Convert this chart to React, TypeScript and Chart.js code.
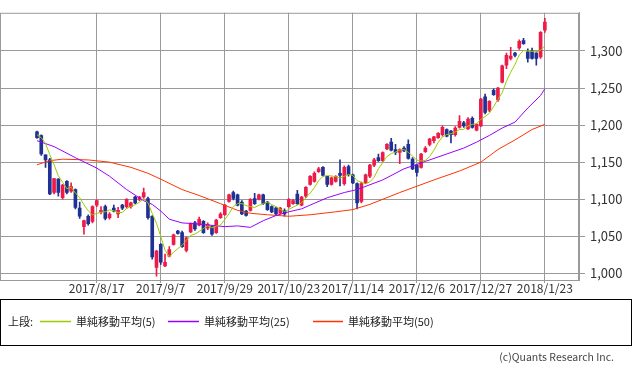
import React, { useEffect, useRef } from "react";
import { Chart, registerables } from "chart.js";

Chart.register(...registerables);

// ---- data (daily candles, index 0..119) ----
const openPrices = [1191,1186,1160,1153,1109,1127,1102,1124,1111,1113, 1088,1063,1077,1070,1092,1083,1090,1075,1088,1080, 1092,1090,1090,1103,1100,1103,1101,1077,1008,1039, 1010,1023,1039,1057,1055,1031,1056,1068,1065,1070, 1061,1063,1055,1075,1079,1097,1109,1106,1096,1084, 1085,1101,1100,1106,1096,1090,1088,1081,1085,1090, 1094,1107,1092,1104,1120,1124,1137,1143,1131,1120, 1124,1135,1121,1144,1133,1121,1097,1122,1131,1146, 1156,1152,1168,1177,1167,1163,1169,1174,1154,1146, 1143,1164,1174,1179,1183,1187,1194,1192,1187,1197, 1203,1195,1209,1193,1199,1238,1220,1247,1234,1258, 1281,1290,1297,1304,1314,1299,1300,1297,1292,1328];
const highPrices = [1192,1187,1160,1155,1128,1128,1120,1125,1122,1114, 1096,1072,1079,1091,1099,1090,1092,1082,1092,1089, 1093,1101,1096,1104,1104,1115,1103,1078,1031,1040, 1026,1036,1053,1058,1057,1049,1068,1070,1076,1071, 1068,1064,1073,1082,1093,1107,1111,1107,1098,1085, 1101,1108,1107,1107,1097,1091,1089,1089,1087,1101, 1100,1112,1104,1117,1132,1137,1143,1144,1131,1130, 1132,1153,1145,1146,1134,1122,1123,1134,1147,1155, 1161,1164,1175,1182,1174,1168,1171,1180,1156,1147, 1162,1171,1182,1185,1190,1199,1195,1193,1198,1213, 1205,1210,1211,1202,1236,1242,1233,1249,1251,1281, 1297,1305,1298,1315,1317,1303,1304,1299,1326,1344];
const lowPrices = [1182,1159,1143,1106,1107,1104,1100,1107,1109,1087, 1074,1053,1065,1068,1090,1080,1072,1073,1083,1075, 1086,1088,1088,1094,1098,1101,1073,1019,996,1012, 1009,1022,1038,1053,1035,1029,1055,1058,1064,1054, 1059,1051,1054,1074,1078,1096,1099,1091,1079,1077, 1084,1093,1099,1093,1085,1082,1079,1080,1077,1089, 1093,1093,1091,1102,1119,1123,1136,1131,1117,1119, 1123,1118,1119,1131,1121,1087,1095,1121,1129,1144, 1151,1151,1167,1165,1160,1148,1164,1154,1140,1131, 1142,1163,1172,1176,1182,1185,1184,1176,1185,1196, 1197,1194,1196,1192,1198,1215,1218,1240,1232,1257, 1276,1288,1292,1302,1309,1285,1289,1281,1290,1325];
const closePrices = [1183,1161,1153,1107,1128,1109,1119,1109,1117,1089, 1077,1071,1067,1090,1098,1085,1074,1080,1084,1085, 1088,1100,1095,1095,1103,1109,1075,1022,1030,1015, 1015,1032,1052,1054,1036,1048,1067,1060,1073,1055, 1066,1053,1072,1080,1092,1106,1101,1092,1080,1078, 1100,1094,1106,1094,1086,1083,1080,1088,1080,1100, 1098,1094,1103,1116,1131,1135,1141,1132,1120,1129, 1131,1132,1143,1133,1122,1095,1121,1133,1146,1153, 1152,1163,1174,1166,1163,1167,1165,1155,1141,1136, 1161,1169,1181,1184,1189,1197,1185,1187,1196,1205, 1199,1208,1197,1201,1235,1217,1232,1241,1250,1280, 1294,1293,1294,1313,1310,1290,1290,1290,1325,1339];

// simple moving average (5), one value per candle
const ma5 = [1187,1183,1175,1160,1146.5,1131.5,1123.0,1114.1,1116.1,1108.5, 1102.1,1092.6,1084.4,1078.9,1080.7,1082.4,1083.0,1085.6,1084.4,1081.8, 1082.2,1087.4,1090.3,1092.5,1096.0,1100.3,1095.3,1080.7,1067.6,1050.0, 1031.1,1022.6,1028.5,1033.4,1037.7,1044.4,1051.3,1052.9,1056.6,1060.5, 1064.1,1061.3,1063.7,1065.2,1072.5,1080.5,1090.1,1094.1,1094.1,1091.4, 1090.1,1088.8,1091.6,1094.3,1096.0,1092.7,1090.0,1086.3,1083.6,1086.2, 1089.2,1092.0,1095.0,1102.1,1108.2,1115.6,1125.1,1130.9,1131.8,1131.4, 1130.4,1128.5,1130.8,1133.4,1132.1,1125.1,1122.9,1120.8,1123.4,1129.6, 1141.0,1149.3,1157.5,1161.6,1163.5,1166.5,1166.9,1163.2,1158.3,1152.8, 1151.6,1152.4,1157.6,1166.1,1176.7,1184.0,1187.2,1188.3,1190.7,1194.0, 1194.3,1198.8,1201.0,1201.8,1207.8,1211.4,1216.1,1224.9,1234.6,1243.7, 1259.1,1271.3,1281.9,1294.6,1300.6,1299.9,1299.5,1298.6,1301.0,1306.8];

// moving averages (25) and (50), read at sampled candle indices
const ma25Index = [0,4,9,14,17,21,25,27,29,31,34,37,44,47,50,53,56,59,62,64,68,72,75,81,86,91,96,100,103,106,109,112,115,118,119];
const ma25Values = [1179,1171,1156,1142,1131,1113,1098,1093,1084,1073,1068,1067,1063,1064,1062,1071,1078,1083,1087,1092,1102,1109,1113,1126,1141,1151,1161,1169,1177,1186,1196,1204,1223,1240,1249];
const ma50Index = [0,3,6,12,17,22,26,29,34,38,43,47,50,54,59,64,70,74,78,85,93,97,99,104,108,112,116,119];
const ma50Values = [1146.5,1152,1154,1153,1150,1143,1135,1127,1113,1105,1094,1085,1081,1079,1077,1079,1083,1086,1093,1109,1126,1134,1138,1150,1167,1180,1194,1201];

const tickIndex = [14, 29, 44, 59, 74, 89, 104, 119];
const tickLabels = ["2017/8/17", "2017/9/7", "2017/9/29", "2017/10/23", "2017/11/14", "2017/12/6", "2017/12/27", "2018/1/23"];
const yTicks = [1000, 1050, 1100, 1150, 1200, 1250, 1300];

const legendLabels = ["単純移動平均(5)", "単純移動平均(25)", "単純移動平均(50)"];

const RED = "#ee1a48";
const BLUE = "#1f3192";
const C_MA5 = "#99cc00";
const C_MA25 = "#9900ff";
const C_MA50 = "#ff3300";
const GRID = "#9a9a9a";
const FONT = "'Noto Sans CJK JP', 'Noto Sans', sans-serif";

const frame = {
  id: "frame",
  afterDraw(chart: any) {
    const { ctx, chartArea } = chart;
    ctx.save();
    ctx.strokeStyle = GRID;
    ctx.lineWidth = 1;
    ctx.strokeRect(chartArea.left + 0.5, chartArea.top + 0.5, chartArea.right - chartArea.left - 1, chartArea.bottom - chartArea.top);
    ctx.restore();
  },
};

function LegendSwatch(props: { left: number; width: number; color: string }) {
  return (
    <svg style={{ position: "absolute", left: props.left, top: 20 }} width={props.width} height={3}>
      <line x1={0} y1={1.5} x2={props.width} y2={1.5} stroke={props.color} strokeWidth={1.5} />
    </svg>
  );
}

export default function App() {
  const ref = useRef<HTMLCanvasElement | null>(null);

  useEffect(() => {
    if (!ref.current) return;
    const idx = openPrices.map((_, i) => i);
    const colors = idx.map((i) => (closePrices[i] >= openPrices[i] ? RED : BLUE));
    const chart = new Chart(ref.current, {
      type: "bar",
      data: {
        datasets: [
          {
            type: "line",
            data: idx.map((i) => ({ x: i, y: ma5[i] })),
            borderColor: C_MA5,
            borderWidth: 1,
            pointRadius: 0,
            tension: 0,
            order: 0,
          } as any,
          {
            type: "line",
            data: ma25Index.map((x, k) => ({ x, y: ma25Values[k] })),
            borderColor: C_MA25,
            borderWidth: 1,
            pointRadius: 0,
            tension: 0,
            order: 0,
          } as any,
          {
            type: "line",
            data: ma50Index.map((x, k) => ({ x, y: ma50Values[k] })),
            borderColor: C_MA50,
            borderWidth: 1,
            pointRadius: 0,
            tension: 0,
            order: 0,
          } as any,
          {
            type: "bar",
            data: idx.map((i) => ({ x: i, y: [openPrices[i], closePrices[i]] })),
            backgroundColor: colors,
            barThickness: 3,
            grouped: false,
            minBarLength: 1,
            order: 1,
          } as any,
          {
            type: "bar",
            data: idx.map((i) => ({ x: i, y: [lowPrices[i], highPrices[i]] })),
            backgroundColor: colors,
            barThickness: 1,
            grouped: false,
            order: 2,
          } as any,
        ],
      },
      options: {
        animation: false,
        responsive: false,
        maintainAspectRatio: false,
        devicePixelRatio: 1,
        layout: { padding: 0 },
        plugins: { legend: { display: false }, tooltip: { enabled: false } },
        scales: {
          x: {
            type: "linear",
            min: -8.67,
            max: 127,
            offset: false,
            afterBuildTicks: (axis: any) => {
              axis.ticks = tickIndex.map((v) => ({ value: v }));
            },
            afterFit: (s: any) => {
              s.height = 20;
            },
            grid: { color: GRID, lineWidth: 1, offset: false, drawTicks: true, tickLength: 3 },
            border: { display: true, color: GRID },
            ticks: {
              autoSkip: false,
              maxRotation: 0,
              minRotation: 0,
              padding: -2,
              color: "#333",
              font: { family: FONT, size: 12 },
              callback: (v: any) => {
                const k = tickIndex.indexOf(Number(v));
                return k >= 0 ? tickLabels[k] : "";
              },
            },
          },
          y: {
            type: "linear",
            position: "right",
            min: 991,
            max: 1351.5,
            afterBuildTicks: (axis: any) => {
              axis.ticks = yTicks.map((v) => ({ value: v }));
            },
            afterFit: (s: any) => {
              s.width = 54;
            },
            grid: { color: GRID, lineWidth: 1, drawTicks: true, tickLength: 6 },
            border: { display: true, color: GRID },
            ticks: {
              padding: 5,
              color: "#333",
              font: { family: FONT, size: 13 },
              callback: (v: any) => Number(v).toLocaleString("en-US"),
            },
          },
        },
      } as any,
      plugins: [frame],
    });
    return () => chart.destroy();
  }, []);

  const legendText = (left: number, text: string) => (
    <div style={{ position: "absolute", left, top: 13, fontSize: 11, lineHeight: "16px", whiteSpace: "nowrap", color: "#222", fontFamily: FONT }}>{text}</div>
  );

  return (
    <div style={{ position: "fixed", left: 0, top: 0, width: 633, height: 370, background: "#fff", overflow: "hidden" }}>
      <canvas ref={ref} width={633} height={300} style={{ position: "absolute", left: 0, top: 0, width: 633, height: 300 }} />
      <div style={{ position: "absolute", left: 0, top: 299, width: 632, height: 47, border: "1px solid #000", boxSizing: "border-box" }}>
        {legendText(7, "上段:")}
        <LegendSwatch left={39} width={31} color={C_MA5} />
        {legendText(75, legendLabels[0])}
        <LegendSwatch left={167} width={31} color={C_MA25} />
        {legendText(203, legendLabels[1])}
        <LegendSwatch left={312} width={30} color={C_MA50} />
        {legendText(347, legendLabels[2])}
      </div>
      <div style={{ position: "absolute", right: 19, top: 350, fontSize: 10.5, lineHeight: "14px", color: "#444", fontFamily: FONT, whiteSpace: "nowrap" }}>
        (c)Quants Research Inc.
      </div>
    </div>
  );
}
